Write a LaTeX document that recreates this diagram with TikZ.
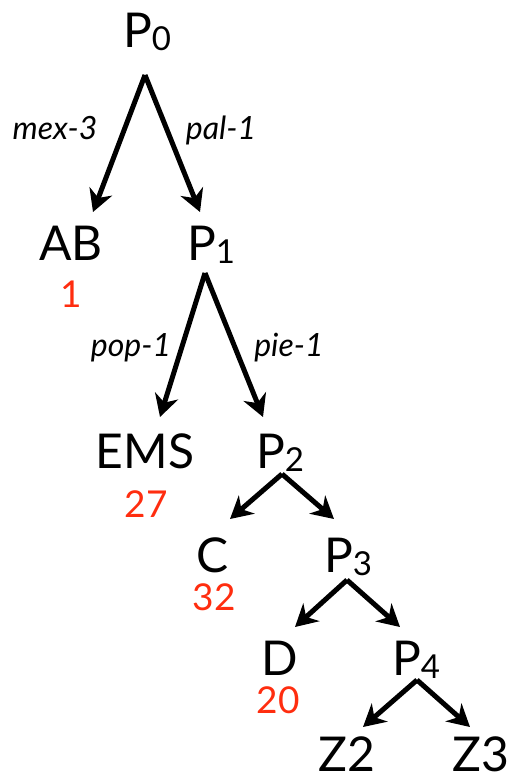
\documentclass[tikz,border=0pt]{standalone}
\usepackage{fontspec}
\setmainfont{Lato}
\usetikzlibrary{arrows.meta}
\definecolor{numred}{RGB}{255,45,15}
\newcommand{\subsc}[1]{\raisebox{-3pt}{\fontsize{33}{33}\selectfont #1}}
\tikzset{
  big/.style={anchor=base, inner sep=0pt, font=\fontsize{48}{48}\selectfont},
  num/.style={anchor=base, inner sep=0pt, text=numred, font=\fontsize{37}{37}\selectfont},
  elab/.style={anchor=base, inner sep=0pt, font=\fontsize{32}{32}\selectfont\itshape},
  arr/.style={line width=5pt, -{Stealth[length=22pt,width=24pt,inset=7pt]}}
}
\begin{document}
\begin{tikzpicture}[x=1pt,y=-1pt]
\useasboundingbox (0,0) rectangle (512,782);
% nodes
\node[big] (P0) at (147,47) {P\subsc{0}};
\node[big] (AB) at (71,260) {AB};
\node[big] (P1) at (211,260) {P\subsc{1}};
\node[num] (n1) at (71,307) {1};
\node[big] (EMS) at (145,468) {EMS};
\node[big] (P2) at (280,468) {P\subsc{2}};
\node[num] (n27) at (146,517) {27};
\node[big] (C) at (213,572) {C};
\node[big] (P3) at (348,572) {P\subsc{3}};
\node[num] (n32) at (214,610) {32};
\node[big] (D) at (280,675) {D};
\node[big] (P4) at (416,675) {P\subsc{4}};
\node[num] (n20) at (278,713) {20};
\node[big] (Z2) at (347,771) {Z2};
\node[big] (Z3) at (481,771) {Z3};
% edge labels
\node[elab] (l1) at (55,139) {mex-3};
\node[elab] (l2) at (221,139) {pal-1};
\node[elab] (l3) at (131,356) {pop-1};
\node[elab] (l4) at (289,356) {pie-1};
% connector points
\coordinate (a0) at (145,75);
\coordinate (tAB) at (93,212);
\coordinate (tP1) at (200,212);
\coordinate (a1) at (205,273);
\coordinate (tEMS) at (160,417);
\coordinate (tP2) at (263,417);
\coordinate (a2) at (282,474);
\coordinate (tC) at (230,519);
\coordinate (tP3) at (334,519);
\coordinate (a3) at (347,580);
\coordinate (tD) at (295,627);
\coordinate (tP4) at (400,627);
\coordinate (a4) at (417,680);
\coordinate (tZ2) at (363,727);
\coordinate (tZ3) at (470,727);
% arrows
\draw[arr] (a0) -- (tAB);
\draw[arr] (a0) -- (tP1);
\draw[arr] (a1) -- (tEMS);
\draw[arr] (a1) -- (tP2);
\draw[arr] (a2) -- (tC);
\draw[arr] (a2) -- (tP3);
\draw[arr] (a3) -- (tD);
\draw[arr] (a3) -- (tP4);
\draw[arr] (a4) -- (tZ2);
\draw[arr] (a4) -- (tZ3);
\end{tikzpicture}
\end{document}
